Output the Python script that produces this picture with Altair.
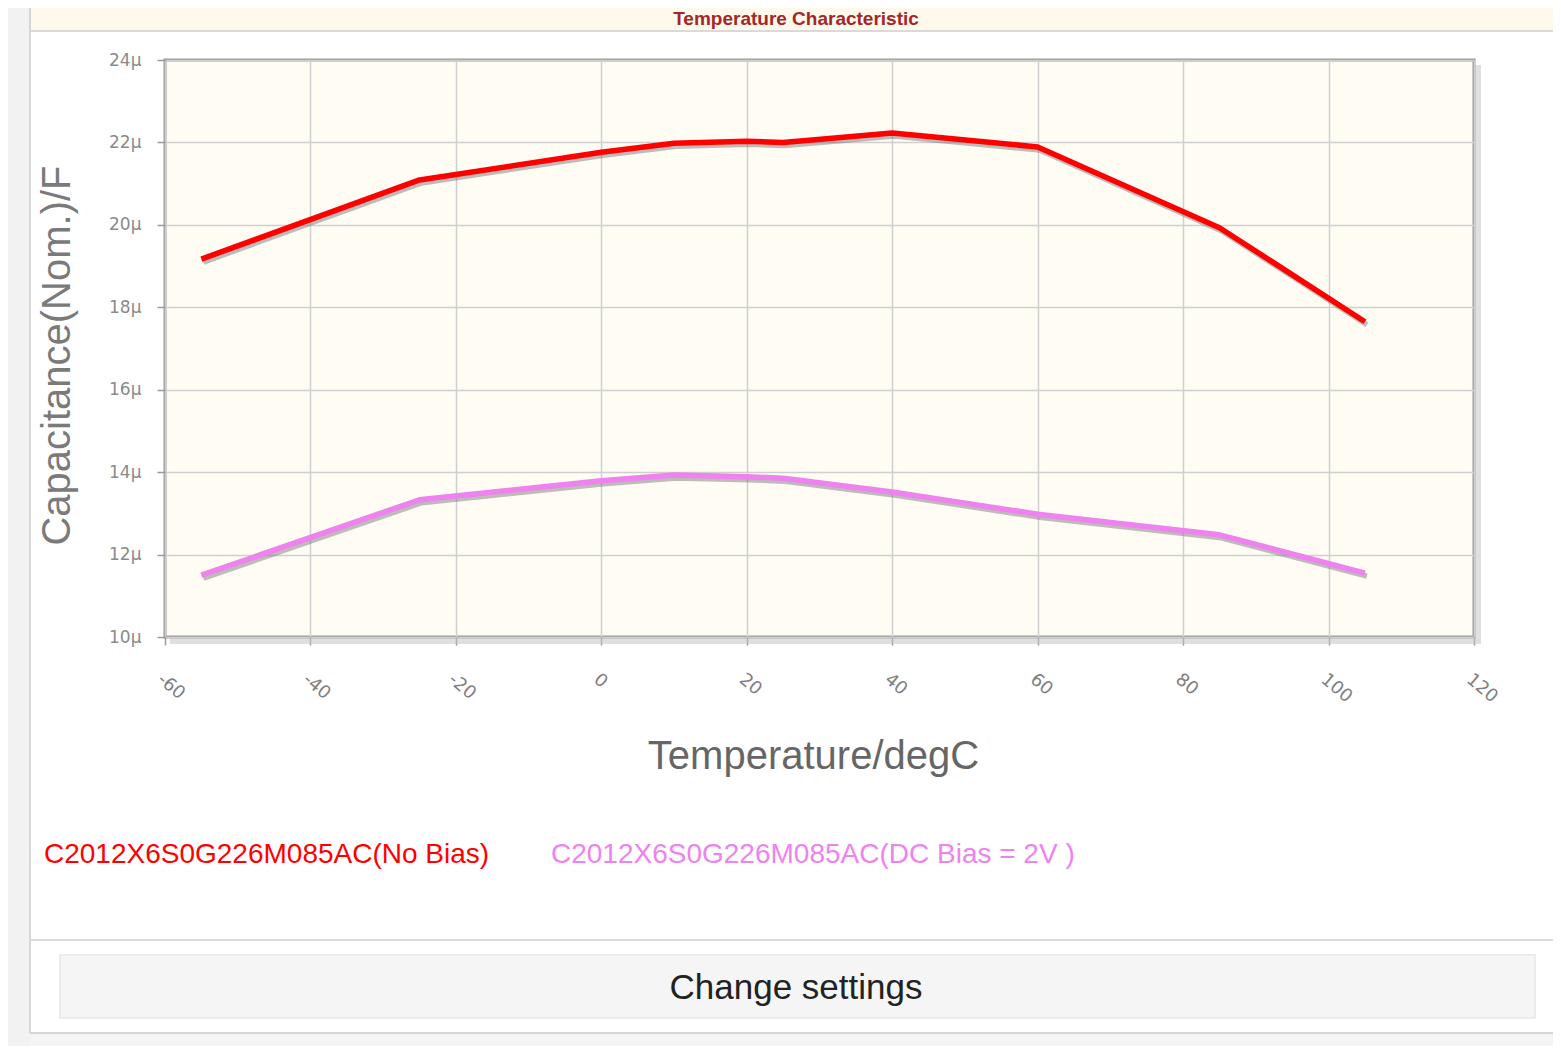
import altair as alt
import pandas as pd

# ---- data ----
temps = [-55, -25, 0, 10, 20, 25, 40, 60, 85, 105]
no_bias = [19.17, 21.09, 21.76, 21.98, 22.03, 22.00, 22.23, 21.89, 19.93, 17.65]
dc_bias = [11.50, 13.33, 13.79, 13.93, 13.89, 13.85, 13.52, 12.98, 12.48, 11.55]
series_names = ["C2012X6S0G226M085AC(No Bias)", "C2012X6S0G226M085AC(DC Bias = 2V )"]
series_colors = ["#ff0000", "#ee82ee"]
x_ticks = [-60, -40, -20, 0, 20, 40, 60, 80, 100, 120]
y_ticks = [10, 12, 14, 16, 18, 20, 22, 24]
chart_title = "Temperature Characteristic"
x_title = "Temperature/degC"
y_title = "Capacitance(Nom.)/F"
button_label = "Change settings"

rows = []
for t, v in zip(temps, no_bias):
    rows.append({"temp": t, "cap": v, "series": series_names[0]})
for t, v in zip(temps, dc_bias):
    rows.append({"temp": t, "cap": v, "series": series_names[1]})
df = pd.DataFrame(rows)
one = pd.DataFrame({"k": [0]})

W, H = 1309, 577

x_enc = alt.X(
    "temp:Q",
    scale=alt.Scale(domain=[-60, 120], nice=False, zero=False),
    axis=alt.Axis(
        values=x_ticks,
        labelExpr="'' + datum.value",
        labelAngle=40,
        labelAlign="left",
        labelBaseline="top",
        labelPadding=25,
        labelFlush=False,
        labelOverlap=False,
        labelFont="DejaVu Sans",
        labelFontSize=18,
        labelColor="#808080",
        tickColor="#999999",
        tickSize=8,
        tickWidth=1.5,
        domain=False,
        grid=True,
        gridColor="#cfcfcf",
        gridWidth=1.5,
        title=x_title,
        titleFont="Liberation Sans",
        titleFontSize=40,
        titleFontWeight="normal",
        titleColor="#666666",
        titleX=648,
        titleY=131,
        titleAlign="center",
        titleBaseline="alphabetic",
    ),
)
y_enc = alt.Y(
    "cap:Q",
    scale=alt.Scale(domain=[10, 24], nice=False, zero=False),
    axis=alt.Axis(
        values=y_ticks,
        labelExpr="datum.value + 'µ'",
        labelPadding=16,
        labelFont="DejaVu Sans",
        labelFontSize=17,
        labelColor="#8a8a8a",
        tickColor="#999999",
        tickSize=8,
        tickWidth=1.5,
        domain=False,
        grid=True,
        gridColor="#cfcfcf",
        gridWidth=1.5,
        title=y_title,
        titleFont="Liberation Sans",
        titleFontSize=40,
        titleFontWeight="normal",
        titleColor="#7a7a7a",
        titleAngle=270,
        titleX=-96,
        titleY=295,
        titleAlign="center",
        titleBaseline="alphabetic",
    ),
)
color_enc = alt.Color(
    "series:N",
    scale=alt.Scale(domain=series_names, range=series_colors),
    legend=None,
)

shadow = alt.Chart(df).mark_line(
    strokeWidth=5.5, color="#6e6e6e", opacity=0.45, xOffset=2, yOffset=3
).encode(x=x_enc, y=y_enc, detail="series:N", order="temp:Q")

lines = alt.Chart(df).mark_line(strokeWidth=5.5, strokeJoin="round").encode(
    x=x_enc, y=y_enc, color=color_enc, order="temp:Q"
)

def rect(x, x2, y, y2, fill, stroke=None, opacity=1.0):
    kw = {"fill": fill, "opacity": opacity}
    if stroke is not None:
        kw["stroke"] = stroke
        kw["strokeWidth"] = 1.5
    return alt.Chart(one).mark_rect(**kw).encode(
        x=alt.value(x), x2=alt.value(x2), y=alt.value(y), y2=alt.value(y2)
    )

def hrule(x, x2, y, color, w=2):
    return alt.Chart(one).mark_rule(color=color, strokeWidth=w).encode(
        x=alt.value(x), x2=alt.value(x2), y=alt.value(y)
    )

def vrule(x, y, y2, color, w=2):
    return alt.Chart(one).mark_rule(color=color, strokeWidth=w).encode(
        x=alt.value(x), y=alt.value(y), y2=alt.value(y2)
    )

RIGHT = 1388  # right edge of canvas in plot coordinates

deco = [
    rect(-157, -135, -52, 986, "#f2f2f2"),          # left grey strip
    rect(-135, RIGHT, 973, 986, "#f4f4f4"),         # below panel
    rect(-135, RIGHT, -52, -29, "#fff9ec"),         # top cream band
    hrule(-135, RIGHT, -29, "#d9d9d9"),
    vrule(-135, -52, 973, "#d6d6d6"),
    hrule(-135, RIGHT, 880, "#dcdcdc"),
    hrule(-135, RIGHT, 973, "#d6d6d6"),
    rect(-105, 1370, 895, 958, "#f5f5f5", stroke="#e6e6e6"),  # button
    rect(W + 1, W + 7, 5, H + 7, "#c4c4c4", opacity=0.55),    # plot shadow right
    rect(5, W + 1, H + 1, H + 7, "#c4c4c4", opacity=0.55),    # plot shadow bottom
]

title_txt = alt.Chart(pd.DataFrame({"t": [chart_title]})).mark_text(
    font="Liberation Sans", fontSize=19, fontWeight="bold",
    color="#a3262a", align="center", baseline="middle"
).encode(text="t:N", x=alt.value(631), y=alt.value(-41))

button_txt = alt.Chart(pd.DataFrame({"t": [button_label]})).mark_text(
    font="Liberation Sans", fontSize=35, color="#222222",
    align="center", baseline="middle"
).encode(text="t:N", x=alt.value(631), y=alt.value(928))

leg_df = pd.DataFrame({"name": series_names})
leg1 = alt.Chart(leg_df).transform_filter(alt.datum.name == series_names[0]).mark_text(
    font="Liberation Sans", fontSize=28, align="left", baseline="middle", color=series_colors[0]
).encode(text="name:N", x=alt.value(-121), y=alt.value(795))
leg2 = alt.Chart(leg_df).transform_filter(alt.datum.name == series_names[1]).mark_text(
    font="Liberation Sans", fontSize=28, align="left", baseline="middle", color=series_colors[1]
).encode(text="name:N", x=alt.value(386), y=alt.value(795))

chart = alt.layer(
    *deco, shadow, lines, title_txt, button_txt, leg1, leg2
).properties(
    width=W,
    height=H,
    autosize=alt.AutoSizeParams(type="none"),
    padding={"left": 157, "top": 52, "right": 79, "bottom": 409},
    background="white",
).configure_view(
    fill="#fffcf4", stroke="#9a9a9a", strokeWidth=3
)

chart.save("out.html", embed_options={"renderer": "svg", "actions": False})
